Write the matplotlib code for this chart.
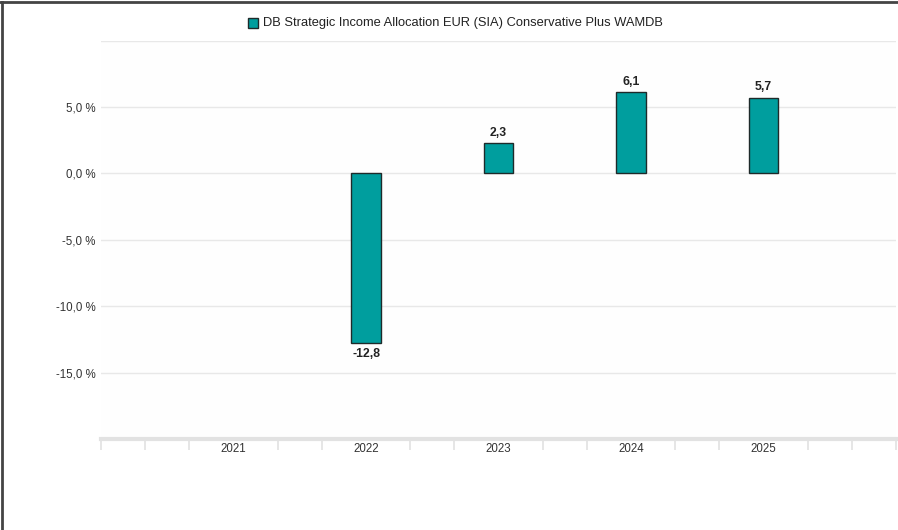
import numpy as np
import matplotlib
matplotlib.use('Agg')
import matplotlib.pyplot as plt
from matplotlib.lines import Line2D
from matplotlib.patches import Rectangle

plt.rcParams['font.family'] = ['Liberation Sans', 'DejaVu Sans']

years = [2021, 2022, 2023, 2024, 2025]
values = [np.nan, -12.8, 2.3, 6.1, 5.7]
series_name = 'DB Strategic Income Allocation EUR (SIA) Conservative Plus WAMDB'
y_ticks = [-15, -10, -5, 0, 5]
bar_color = '#009e9e'

fig = plt.figure(figsize=(8.98, 5.30), dpi=100)
ax = fig.add_axes([101 / 898, 1 - 439 / 530, 795 / 898, (439 - 40.5) / 530])
ax.set_facecolor('#fefefe')

for v in [10] + y_ticks:
    ax.axhline(v, color='#e8e8e8', lw=1.0, zorder=0)

for yr, v in zip(years, values):
    if np.isnan(v):
        continue
    ax.bar(yr, v, width=0.225, color=bar_color, edgecolor='#1e2a2a', lw=1.0, zorder=3)
    lbl = ('%.1f' % v).replace('.', ',')
    if v >= 0:
        ax.annotate(lbl, (yr, v), xytext=(0, 3), textcoords='offset points',
                    ha='center', va='bottom', fontsize=8.8, fontweight='bold', color='#222222')
    else:
        ax.annotate(lbl, (yr, v), xytext=(0, -3), textcoords='offset points',
                    ha='center', va='top', fontsize=8.8, fontweight='bold', color='#222222')

ax.set_xlim(2020, 2026)
ax.set_ylim(-20, 10)

ax.set_yticks(y_ticks)
ax.set_yticklabels([('%.1f %%' % v).replace('.', ',') for v in y_ticks])
ax.tick_params(axis='y', length=0, pad=4, labelsize=8.3, labelcolor='#333333')

ax.set_xticks(years)
ax.set_xticklabels([str(y) for y in years])
ax.tick_params(axis='x', length=0, pad=3, labelsize=8.3, labelcolor='#333333')
minor = [2020 + k / 3 for k in range(19) if k % 3 != 0 or k in (0, 18)]
ax.set_xticks(minor, minor=True)
ax.tick_params(axis='x', which='minor', length=8, width=1.2, color='#e2e2e2')

for s in ['top', 'right', 'left']:
    ax.spines[s].set_visible(False)
ax.spines['bottom'].set_color('#e2e2e2')
ax.spines['bottom'].set_linewidth(3)

# legend at the top
fig.add_artist(Rectangle((248 / 898, 1 - 28 / 530), 10 / 898, 10 / 530,
                         transform=fig.transFigure, facecolor=bar_color,
                         edgecolor='#1e2a2a', lw=1.0))
fig.text(263 / 898, 1 - 23 / 530, series_name, ha='left', va='center',
         fontsize=9.3, color='#222222')

# outer frame (left and top)
fig.add_artist(Line2D([1.5 / 898, 1.5 / 898], [0, 1 - 2 / 530], transform=fig.transFigure,
                      color='#444444', lw=2))
fig.add_artist(Line2D([0, 1], [1 - 2 / 530, 1 - 2 / 530], transform=fig.transFigure,
                      color='#444444', lw=2))

fig.savefig('out.png', dpi=100)
